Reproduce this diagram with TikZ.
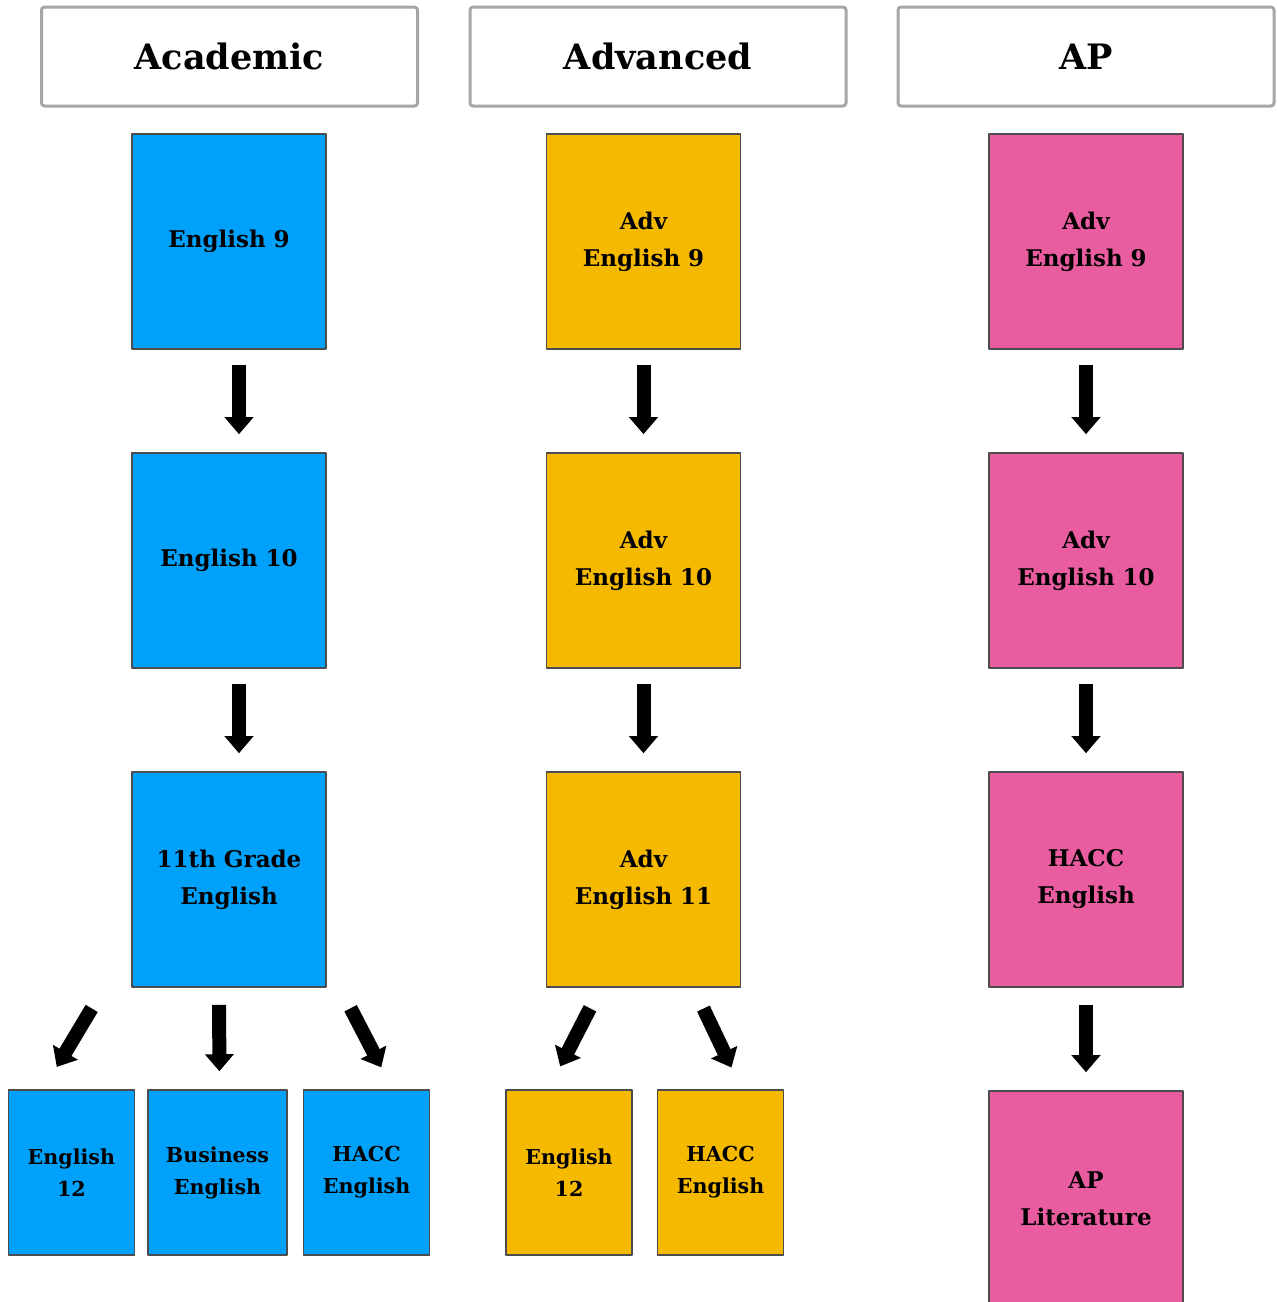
\documentclass[tikz,border=0pt]{standalone}
\usepackage{fontspec}
\setmainfont{DejaVu Serif}
\usetikzlibrary{arrows.meta,positioning}
\definecolor{acadblue}{RGB}{0,161,250}
\definecolor{advyellow}{RGB}{245,185,0}
\definecolor{appink}{RGB}{234,92,160}

\begin{document}
\begin{tikzpicture}[x=0.5pt, y=-0.5pt, line join=round,
  >={Triangle[length=8.5pt, width=14pt]},
  header/.style={draw=gray!70, line width=1.5pt, rounded corners=1.5pt,
    minimum width=188pt, minimum height=49.5pt,
    font=\fontsize{17.5}{22}\selectfont\bfseries},
  course/.style={draw=black!70, line width=0.8pt, inner sep=0pt,
    minimum width=97pt, minimum height=107.5pt, align=center,
    font=\fontsize{11.5}{18.5}\selectfont\bfseries},
  smallcourse/.style={course, minimum width=63pt, minimum height=82.5pt,
    font=\fontsize{10.3}{16}\selectfont\bfseries},
  flow/.style={->, line width=7pt, black}]

% --- Page (the last box runs off the bottom) ---
\def\gap{51.2pt}   % vertical gap between boxes
\useasboundingbox (0,0) rectangle (1276,1302);
\clip (0,0) rectangle (1276,1302);

% --- Track headers ---
\node[header] (acad) at (229.5,56.5) {Academic};
\node[header] (adv)  at (658,56.5)   {Advanced};
\node[header] (ap)   at (1086,56.5)  {AP};

% --- Academic track ---
\node[course, fill=acadblue] (ae9)  at (229,241.5) {English 9};
\node[course, fill=acadblue, below=\gap of ae9]  (ae10) {English 10};
\node[course, fill=acadblue, below=\gap of ae10] (ae11) {11th Grade\\English};
\node[smallcourse, fill=acadblue, minimum width=69.5pt] (abus) at (217.5,1172.5) {Business\\English};
\node[smallcourse, fill=acadblue, left=6pt of abus]    (ae12)  {English\\12};
\node[smallcourse, fill=acadblue, right=7.5pt of abus] (ahacc) {HACC\\English};

% --- Advanced track ---
\node[course, fill=advyellow] (ve9)  at (643.5,241.5) {Adv\\English 9};
\node[course, fill=advyellow, below=\gap of ve9]  (ve10) {Adv\\English 10};
\node[course, fill=advyellow, below=\gap of ve10] (ve11) {Adv\\English 11};
\node[smallcourse, fill=advyellow] (ve12) at (569,1172.5) {English\\12};
\node[smallcourse, fill=advyellow, right=12pt of ve12] (vhacc) {HACC\\English};

% --- AP track ---
\node[course, fill=appink] (pe9)  at (1086,241.5) {Adv\\English 9};
\node[course, fill=appink, below=\gap of pe9]   (pe10)  {Adv\\English 10};
\node[course, fill=appink, below=\gap of pe10]  (phacc) {HACC\\English};
\node[course, fill=appink, below=\gap of phacc] (plit)  {AP\\Literature};

% --- Arrows ---
\draw[flow, shorten <=7.5pt, shorten >=9pt] ([xshift=5pt]ae9.south) -- ([xshift=5pt]ae10.north);
\draw[flow, shorten <=7.5pt, shorten >=9pt] ([xshift=5pt]ae10.south) -- ([xshift=5pt]ae11.north);
\draw[flow, shorten <=12pt, shorten >=13pt] ([xshift=-62.5pt]ae11.south) -- ([xshift=-14pt]ae12.north);
\draw[flow, shorten <=8.5pt, shorten >=9pt] ([xshift=-5pt]ae11.south) -- ([xshift=1pt]abus.north);
\draw[flow, shorten <=11.5pt, shorten >=12.3pt] ([xshift=55.5pt]ae11.south) -- ([xshift=13pt]ahacc.north);

\draw[flow, shorten <=7.5pt, shorten >=9pt] (ve9.south) -- (ve10.north);
\draw[flow, shorten <=7.5pt, shorten >=9pt] (ve10.south) -- (ve11.north);
\draw[flow, shorten <=11.5pt, shorten >=12.8pt] ([xshift=-21.5pt]ve11.south) -- ([xshift=-10.25pt]ve12.north);
\draw[flow, shorten <=11.5pt, shorten >=12pt] ([xshift=25pt]ve11.south) -- ([xshift=10.6pt]vhacc.north);

\draw[flow, shorten <=7.5pt, shorten >=9pt] (pe9.south) -- (pe10.north);
\draw[flow, shorten <=7.5pt, shorten >=9pt] (pe10.south) -- (phacc.north);
\draw[flow, shorten <=8.5pt, shorten >=9pt] (phacc.south) -- (plit.north);

\end{tikzpicture}
\end{document}
